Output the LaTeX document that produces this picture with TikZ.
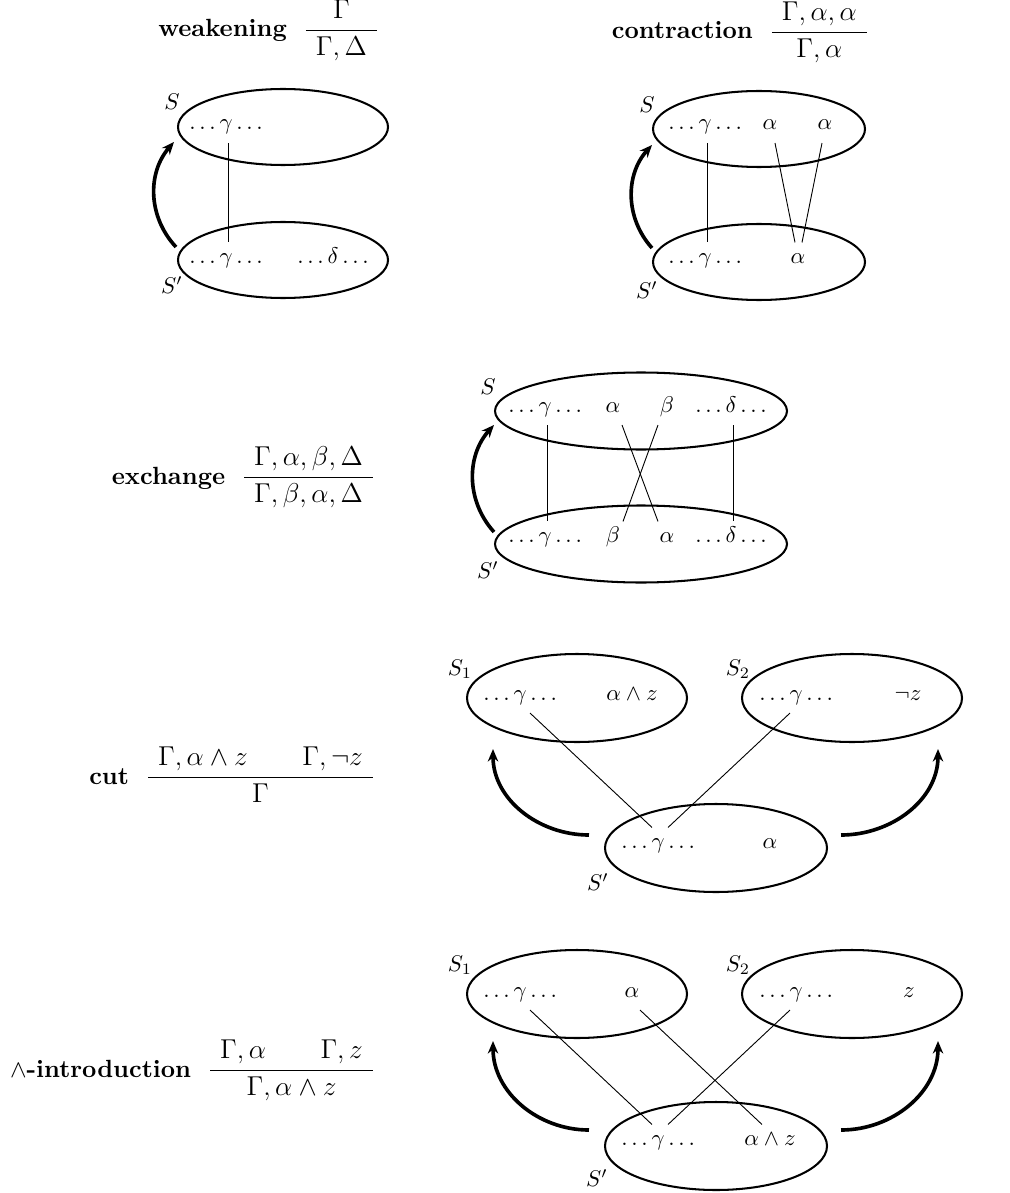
\documentclass[tikz,border=0pt]{standalone}
\usepackage{amsmath}
\usetikzlibrary{arrows.meta,positioning,shapes.geometric,calc}

\newcommand{\pxu}{0.44pt}
\newcommand{\rulefrac}[2]{\ensuremath{\dfrac{\hspace{4.4pt}#1\hspace{4.4pt}}{\hspace{4.4pt}#2\hspace{4.4pt}}}}
\newcommand{\rulename}[1]{{\fontsize{10.95}{13}\selectfont\bfseries #1}}

\begin{document}
\begin{tikzpicture}[
  x=\pxu, y=-\pxu,
  bag/.style 2 args={draw, ellipse, line width=0.9pt, inner sep=0pt, minimum width=#1*\pxu, minimum height=#2*\pxu},
  elem/.style={anchor=base, text height=5.5pt, text depth=2.2pt},
  tag/.style={inner sep=1pt},
  link/.style={thin},
  lift/.style={-{Stealth[length=5.5pt, width=4.6pt]}, line width=1.6pt},
  rulenode/.style={anchor=base east, inner sep=0pt, font=\large}
]
\useasboundingbox (0,0) rectangle (1010,1193);

% Weakening
\node[rulenode] (wkT) at (380,37) {\rulename{weakening}\hspace{0.6em}\rulefrac{\Gamma}{\Gamma,\Delta}};
\node[bag={210}{76}] (wkS) at (283,127) {};
\node[bag={210}{76}] (wkSp) at (283,260) {};
\node[elem] (wkg) at (228,130) {$\dots\gamma\dots$};
\node[elem] (wkgp) at (228,263) {$\dots\gamma\dots$};
\node[elem] (wkdp) at (335,263) {$\dots\delta\dots$};
\node[tag] (wkl) at (172,102) {$S$};
\node[tag] (wklp) at (172,285) {$S'$};
\draw[link] (wkg) -- (wkgp);
\draw[lift] ([shift={(-1,-13)}]wkSp.west) to[bend left=42] ([shift={(-3,15)}]wkS.west);

% Contraction
\node[rulenode] (ctT) at (870,39) {\rulename{contraction}\hspace{0.6em}\rulefrac{\Gamma,\alpha,\alpha}{\Gamma,\alpha}};
\node[bag={212}{76}] (ctS) at (759,129) {};
\node[bag={212}{76}] (ctSp) at (759,262) {};
\node[elem] (ctg) at (707,130) {$\dots\gamma\dots$};
\node[elem] (cta) at (770,130) {$\alpha$};
\node[elem] (ctaa) at (825,130) {$\alpha$};
\node[elem] (ctgp) at (707,263) {$\dots\gamma\dots$};
\node[elem] (ctap) at (798,263) {$\alpha$};
\node[tag] (ctl) at (647,105) {$S$};
\node[tag] (ctlp) at (647,290) {$S'$};
\draw[link] (ctg) -- (ctgp);
\draw[link] ([shift={(5,0)}]cta.south) -- ([shift={(-3,0)}]ctap.north);
\draw[link] ([shift={(-3,0)}]ctaa.south) -- ([shift={(4,0)}]ctap.north);
\draw[lift] ([shift={(0,-14)}]ctSp.west) to[bend left=42] ([shift={(0,16)}]ctS.west);

% Exchange
\node[rulenode] (exT) at (376,484) {\rulename{exchange}\hspace{0.6em}\rulefrac{\Gamma,\alpha,\beta,\Delta}{\Gamma,\beta,\alpha,\Delta}};
\node[bag={292}{77}] (exS) at (641,411) {};
\node[bag={292}{77}] (exSp) at (641,544) {};
\node[elem] (exg) at (547,412) {$\dots\gamma\dots$};
\node[elem] (exa) at (613,412) {$\alpha$};
\node[elem] (exb) at (667,412) {$\beta$};
\node[elem] (exd) at (733,412) {$\dots\delta\dots$};
\node[elem] (exgp) at (547,542) {$\dots\gamma\dots$};
\node[elem] (exbp) at (613,542) {$\beta$};
\node[elem] (exap) at (667,542) {$\alpha$};
\node[elem] (exdp) at (733,542) {$\dots\delta\dots$};
\node[tag] (exl) at (488,387) {$S$};
\node[tag] (exlp) at (488,570) {$S'$};
\draw[link] (exg) -- (exgp);
\draw[link] (exd) -- (exdp);
\draw[link] ([shift={(9,0)}]exa.south) -- ([shift={(-9,0)}]exap.north);
\draw[link] ([shift={(-9,0)}]exb.south) -- ([shift={(10,0)}]exbp.north);
\draw[lift] ([shift={(0,-12)}]exSp.west) to[bend left=42] ([shift={(0,14)}]exS.west);

% Cut
\node[rulenode] (cuT) at (376,784) {\rulename{cut}\hspace{0.6em}\rulefrac{\Gamma,\alpha\wedge z\qquad\Gamma,\neg z}{\Gamma}};
\node[bag={220}{88}] (cuS1) at (577,698) {};
\node[bag={220}{88}] (cuS2) at (852,698) {};
\node[bag={222}{88}] (cuSp) at (716,848) {};
\node[elem] (cu1g) at (522,700) {$\dots\gamma\dots$};
\node[elem] (cu1a) at (632,700) {$\alpha\wedge z$};
\node[elem] (cu2g) at (798,700) {$\dots\gamma\dots$};
\node[elem] (cu2z) at (908,700) {$\neg z$};
\node[elem] (cupg) at (660,848) {$\dots\gamma\dots$};
\node[elem] (cupa) at (770,848) {$\alpha$};
\node[tag] (cul1) at (460,669) {$S_1$};
\node[tag] (cul2) at (738,669) {$S_2$};
\node[tag] (culp) at (598,882) {$S'$};
\draw[link] ([shift={(8,0)}]cu1g.south) -- ([shift={(-8,0)}]cupg.north);
\draw[link] ([shift={(-8,0)}]cu2g.south) -- ([shift={(8,0)}]cupg.north);
\draw[lift] ([shift={(-15,-13)}]cuSp.west) to[out=180, in=-90] ([shift={(-84,6)}]cuS1.south);
\draw[lift] ([shift={(13,-13)}]cuSp.east) to[out=0, in=-90] ([shift={(86,6)}]cuS2.south);

% And-introduction
\node[rulenode] (aiT) at (376,1077) {\rulename{\(\wedge\)-introduction}\hspace{0.6em}\rulefrac{\Gamma,\alpha\qquad\Gamma,z}{\Gamma,\alpha\wedge z}};
\node[bag={220}{88}] (aiS1) at (577,994) {};
\node[bag={220}{88}] (aiS2) at (852,994) {};
\node[bag={222}{88}] (aiSp) at (716,1146) {};
\node[elem] (ai1g) at (522,997) {$\dots\gamma\dots$};
\node[elem] (ai1a) at (632,997) {$\alpha$};
\node[elem] (ai2g) at (798,997) {$\dots\gamma\dots$};
\node[elem] (ai2z) at (909,997) {$z$};
\node[elem] (aipg) at (660,1145) {$\dots\gamma\dots$};
\node[elem] (aipa) at (770,1145) {$\alpha\wedge z$};
\node[tag] (ail1) at (460,965) {$S_1$};
\node[tag] (ail2) at (738,965) {$S_2$};
\node[tag] (ailp) at (597,1178) {$S'$};
\draw[link] ([shift={(8,0)}]ai1g.south) -- ([shift={(-8,0)}]aipg.north);
\draw[link] ([shift={(8,0)}]ai1a.south) -- ([shift={(-8,0)}]aipa.north);
\draw[link] ([shift={(-8,0)}]ai2g.south) -- ([shift={(8,0)}]aipg.north);
\draw[lift] ([shift={(-15,-16)}]aiSp.west) to[out=180, in=-90] ([shift={(-84,2)}]aiS1.south);
\draw[lift] ([shift={(13,-16)}]aiSp.east) to[out=0, in=-90] ([shift={(86,2)}]aiS2.south);

\end{tikzpicture}
\end{document}
